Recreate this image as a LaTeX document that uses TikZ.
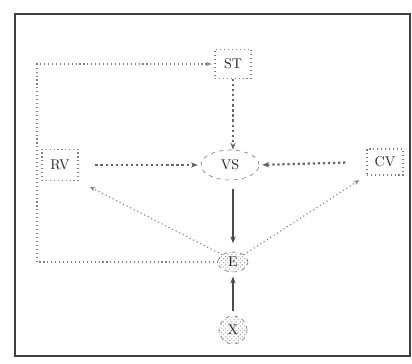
\documentclass[tikz,border=0pt]{standalone}
\usetikzlibrary{arrows.meta,patterns,shapes.geometric}

\begin{document}
\begin{tikzpicture}[
    box/.style={draw=gray, dotted, thick, minimum width=0.9cm, minimum height=0.72cm, text=black!85},
    oval/.style={draw=gray!90!black, dashed, ellipse, inner sep=0pt, text=black!85},
    hatched/.style={oval, pattern=crosshatch dots, pattern color=gray!70},
    link/.style={draw=gray, dotted, thick, -{Stealth[length=4pt]}},
    heavy/.style={draw=gray!80!black, dotted, line width=1.6pt, -{Stealth[length=5pt]}},
    firm/.style={draw=black!70, thick, -{Stealth[length=5pt]}}
]
\useasboundingbox (0,0) rectangle (10.3,9.1);

% Marco
\draw[black!75, line width=1.2pt] (0.375,0.2) rectangle (10.25,8.75);

% Nodos
\node[box] (ST) at (5.825,7.5) {ST};
\node[box, minimum height=0.78cm] (RV) at (1.5,4.975) {RV};
\node[box, minimum height=0.65cm] (CV) at (9.625,5.05) {CV};
\node[oval, minimum width=1.45cm, minimum height=0.75cm] (VS) at (5.75,4.975) {VS};
\node[hatched, minimum width=0.75cm, minimum height=0.5cm] (E) at (5.825,2.55) {E};
\node[hatched, minimum width=0.7cm, minimum height=0.7cm] (X) at (5.825,0.85) {X};

% Conexiones hacia VS
\draw[heavy] (ST.south) -- (ST.south |- VS.north);
\draw[heavy, shorten <=12pt, shorten >=2pt] (RV.east) -- (VS.west);
\draw[heavy, shorten <=15pt, shorten >=2pt] (CV.west) -- (VS.east);

% Conexiones de E
\draw[firm, shorten <=6pt, shorten >=6pt] (VS.south -| E.north) -- (E.north);
\draw[firm, shorten <=3pt, shorten >=3pt] (X.north) -- (E.south);
\draw[link, shorten >=9pt] (E.north west) -- (RV.south east);
\draw[link, shorten >=6pt] (E.north east) -- (CV.south west);
\draw[link, shorten >=2pt] (E.west) -- (0.925,2.55) |- (ST.west);

\end{tikzpicture}
\end{document}
